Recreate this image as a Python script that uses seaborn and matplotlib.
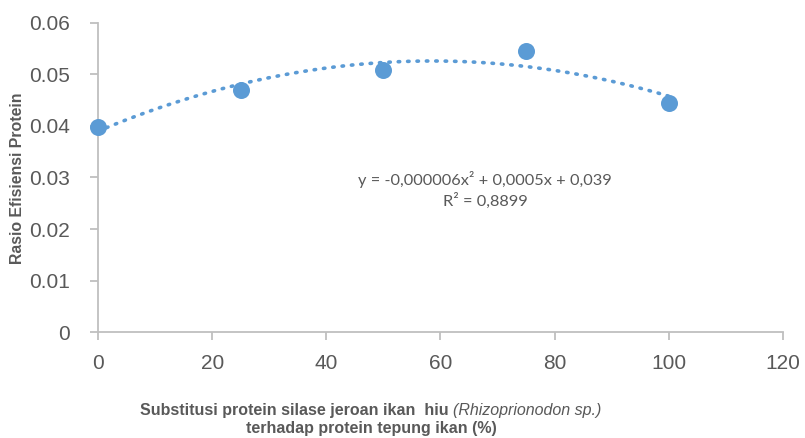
import numpy as np
import pandas as pd
import matplotlib
matplotlib.use('Agg')
import matplotlib.pyplot as plt
import seaborn as sns
from matplotlib.ticker import FuncFormatter

# data
substitusi = [0, 25, 50, 75, 100]
rasio_ep = [0.0398, 0.0470, 0.0509, 0.0546, 0.0445]
persamaan = 'y = -0,000006x\u00b2 + 0,0005x + 0,039'
r_kuadrat = 'R\u00b2 = 0,8899'

df = pd.DataFrame({'x': substitusi, 'y': rasio_ep})

sns.set_style('white')
plt.rcParams['font.family'] = ['Liberation Sans', 'DejaVu Sans']

biru = '#5B9BD5'
abu = '#BFBFBF'
teks = '#595959'

fig = plt.figure(figsize=(8.05, 4.38), dpi=100)
ax = fig.add_axes([0.1217, 0.242, 0.851, 0.7055])

# trendline polinomial orde 2 (dotted)
sns.regplot(data=df, x='x', y='y', order=2, ci=None, scatter=False, truncate=True,
            line_kws={'color': biru, 'lw': 2.6, 'ls': (0, (0.4, 2.2)),
                      'dash_capstyle': 'round'}, ax=ax)
sns.scatterplot(data=df, x='x', y='y', s=150, color=biru, edgecolor=biru,
                linewidth=0, zorder=5, ax=ax)
for c in ax.collections:
    c.set_clip_on(False)

ax.set_xlim(0, 120)
ax.set_ylim(0, 0.06)
ax.set_xticks(range(0, 121, 20))
ax.set_yticks(np.arange(0, 0.061, 0.01))
ax.yaxis.set_major_formatter(FuncFormatter(lambda v, p: '0' if abs(v) < 1e-9 else f'{v:.2f}'))

for s in ['top', 'right']:
    ax.spines[s].set_visible(False)
for s in ['left', 'bottom']:
    ax.spines[s].set_color(abu)
    ax.spines[s].set_linewidth(1.3)
ax.tick_params(axis='both', colors=abu, length=6, width=1.3, direction='out',
               labelcolor=teks, labelsize=15, bottom=True, left=True)
ax.tick_params(axis='x', pad=10)
ax.tick_params(axis='y', pad=14)

ax.set_xlabel('')
ax.set_ylabel('')
fig.text(17.5 / 805, 1 - 178 / 438, 'Rasio Efisiensi Protein', rotation=90,
         ha='center', va='center', fontsize=11.4, fontweight='bold', color=teks)

# equation
fig.text(485 / 805, 1 - 180 / 438, persamaan, ha='center', va='center',
         fontsize=11.8, color=teks, family=['Lato', 'DejaVu Sans'])
fig.text(485 / 805, 1 - 201 / 438, r_kuadrat, ha='center', va='center',
         fontsize=11.8, color=teks, family=['Lato', 'DejaVu Sans'])

# x label, two lines, partly italic -> measure pieces and center the line
tengah = 371
bagian1 = fig.text(0, 1 - 411 / 438, 'Substitusi protein silase jeroan ikan  hiu ',
                   ha='left', va='center', fontsize=11.5, fontweight='bold', color=teks)
bagian2 = fig.text(0, 1 - 411 / 438, '(Rhizoprionodon sp.)', ha='left', va='center',
                   fontsize=11.5, style='italic', color=teks)
fig.canvas.draw()
r = fig.canvas.get_renderer()
w1 = bagian1.get_window_extent(r).width
w2 = bagian2.get_window_extent(r).width
x0 = tengah - (w1 + w2) / 2
bagian1.set_x(x0 / 805)
bagian2.set_x((x0 + w1) / 805)
fig.text(tengah / 805, 1 - 429 / 438, 'terhadap protein tepung ikan (%)', ha='center',
         va='center', fontsize=11.5, fontweight='bold', color=teks)

fig.savefig('out.png', dpi=100)
